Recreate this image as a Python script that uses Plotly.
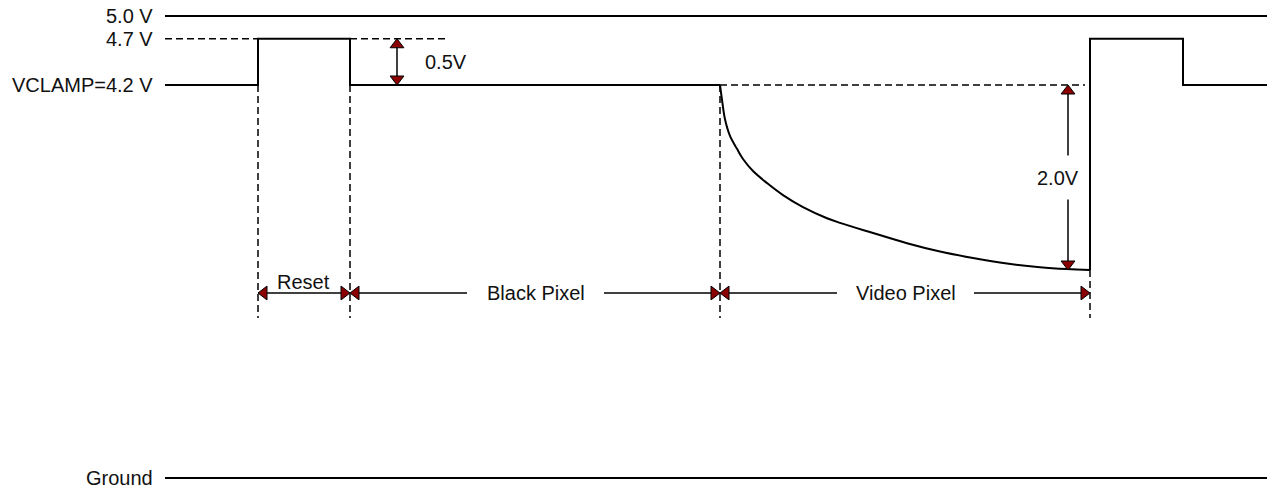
import plotly.graph_objects as go

# voltage levels (V)
V_RAIL = 5.0
V_RESET = 4.7
V_CLAMP = 4.2
V_GROUND = 0.0
V_VIDEO = 2.2

# time axis (arbitrary units)
t_start, t_end = 165, 1275
edges = [258, 350, 720, 1090, 1183]

# video pixel discharge curve (t, V)
curve_t = [720, 722, 725, 730, 737, 743, 753, 767, 783, 803, 827, 840,
           873, 907, 940, 973, 1007, 1040, 1067, 1090]
curve_v = [4.20, 4.04, 3.83, 3.65, 3.51, 3.40, 3.27, 3.14, 3.01, 2.88, 2.76, 2.71,
           2.60, 2.49, 2.40, 2.33, 2.27, 2.23, 2.21, 2.20]

signal_labels = ["4.7 V", "VCLAMP=4.2 V"]
signal_levels = [V_RESET, V_CLAMP]
rail_labels = ["5.0 V", "Ground"]
rail_levels = [V_RAIL, V_GROUND]
segment_labels = ["Reset", "Black Pixel", "Video Pixel"]

# page geometry: 1 x-unit = 1 px; the rails are not drawn to the signal's scale,
# so they get their own overlaid y axis
W, H = 1275, 487
OFF = 8                          # page body margin
SIG_PX_PER_V = 92.5              # signal axis: 4.2 V at 85 px
RAIL_PX_PER_V = 92.4             # rail axis: 5.0 V at 16 px, 0 V at 478 px
sig_range = [V_CLAMP - (H - 85) / SIG_PX_PER_V, V_CLAMP + (85 - OFF) / SIG_PX_PER_V]
rail_range = [-(H - 478) / RAIL_PX_PER_V, V_RAIL + (16 - OFF) / RAIL_PX_PER_V]


def px2v(dy):
    return dy / SIG_PX_PER_V


FONT = dict(family="Arial, Liberation Sans, sans-serif", size=20, color="#111111")
DARK_RED = "#8b0000"
DASH = "7px,4px"
DIM_Y = V_CLAMP - px2v(293 - 85)     # dimension line height
DASH_BOTTOM = V_CLAMP - px2v(318 - 85)
GAP = 137                             # gap in dimension line around text

fig = go.Figure()


def line(x, y, dash=None, width=2, shape="linear", yaxis="y"):
    fig.add_trace(go.Scatter(x=x, y=y, mode="lines", hoverinfo="skip", yaxis=yaxis,
                             line=dict(color="black", width=width, dash=dash,
                                       shape=shape)))


def arrow_head(x, y, symbol):
    # put triangle tip on (x, y)
    off = 6
    dx = {"triangle-left": off, "triangle-right": -off}.get(symbol, 0)
    dy = {"triangle-up": -px2v(off), "triangle-down": px2v(off)}.get(symbol, 0)
    fig.add_trace(go.Scatter(
        x=[x + dx], y=[y + dy], mode="markers", hoverinfo="skip",
        marker=dict(symbol=symbol, size=12, color=DARK_RED,
                    line=dict(color="black", width=1))))


# rails
for v in rail_levels:
    line([t_start, t_end], [v, v], yaxis="y2")

# reference dashed lines
line([t_start, edges[0]], [V_RESET, V_RESET], dash=DASH, width=1.5)
line([edges[1], 445], [V_RESET, V_RESET], dash=DASH, width=1.5)
line([edges[2], 1085], [V_CLAMP, V_CLAMP], dash=DASH, width=1.5)

# vertical dashed markers
for t in edges[:3]:
    line([t, t], [V_CLAMP, DASH_BOTTOM], dash=DASH, width=1.5)
line([edges[3], edges[3]], [V_VIDEO, DASH_BOTTOM], dash=DASH, width=1.5)

# waveform
line([t_start, edges[0], edges[0], edges[1], edges[1], edges[2]],
     [V_CLAMP, V_CLAMP, V_RESET, V_RESET, V_CLAMP, V_CLAMP])
line(curve_t, curve_v, shape="spline")
line([edges[3], edges[3], edges[4], edges[4], t_end],
     [V_VIDEO, V_RESET, V_RESET, V_CLAMP, V_CLAMP])

# 0.5V dimension
xa = 397
line([xa, xa], [V_RESET - px2v(8), V_CLAMP + px2v(8)], width=1.5)
arrow_head(xa, V_RESET, "triangle-up")
arrow_head(xa, V_CLAMP, "triangle-down")
fig.add_annotation(x=446, y=(V_RESET + V_CLAMP) / 2, text="0.5V", showarrow=False,
                   font=FONT)

# 2.0V dimension
xb = 1068
mid = V_CLAMP - px2v(177.5 - 85)
line([xb, xb], [V_CLAMP - px2v(8), mid + px2v(22)], width=1.5)
line([xb, xb], [mid - px2v(22), V_VIDEO + px2v(8)], width=1.5)
arrow_head(xb, V_CLAMP, "triangle-up")
arrow_head(xb, V_VIDEO, "triangle-down")
fig.add_annotation(x=1058, y=mid, text="2.0V", showarrow=False, font=FONT)

# horizontal dimensions
bounds = [(edges[0], edges[1]), (edges[1], edges[2]), (edges[2], edges[3])]
text_x = [303, 535.5, 905.5]
for (a, b), lbl, tx in zip(bounds, segment_labels, text_x):
    if lbl == "Reset":
        line([a + 8, b - 8], [DIM_Y, DIM_Y], width=1.5)
        fig.add_annotation(x=tx, y=DIM_Y + px2v(11), text=lbl, showarrow=False,
                           font=FONT)
    else:
        line([a + 8, tx - GAP / 2], [DIM_Y, DIM_Y], width=1.5)
        line([tx + GAP / 2, b - 8], [DIM_Y, DIM_Y], width=1.5)
        fig.add_annotation(x=tx, y=DIM_Y, text=lbl, showarrow=False, font=FONT)
    arrow_head(a, DIM_Y, "triangle-left")
    arrow_head(b, DIM_Y, "triangle-right")

# level labels
for lbl, v in zip(signal_labels, signal_levels):
    fig.add_annotation(x=155, y=v, text=lbl, showarrow=False, xanchor="right",
                       font=FONT)
for lbl, v in zip(rail_labels, rail_levels):
    fig.add_annotation(x=155, y=v, yref="y2", text=lbl, showarrow=False,
                       xanchor="right", font=FONT)

fig.update_layout(
    width=W - OFF, height=H - OFF,
    margin=dict(l=0, r=0, t=0, b=0),
    plot_bgcolor="white", paper_bgcolor="white",
    showlegend=False,
    xaxis=dict(range=[OFF, W], visible=False, fixedrange=True),
    yaxis=dict(range=sig_range, visible=False, fixedrange=True),
    yaxis2=dict(range=rail_range, visible=False, fixedrange=True, overlaying="y"),
)

fig.write_html("out.html")
